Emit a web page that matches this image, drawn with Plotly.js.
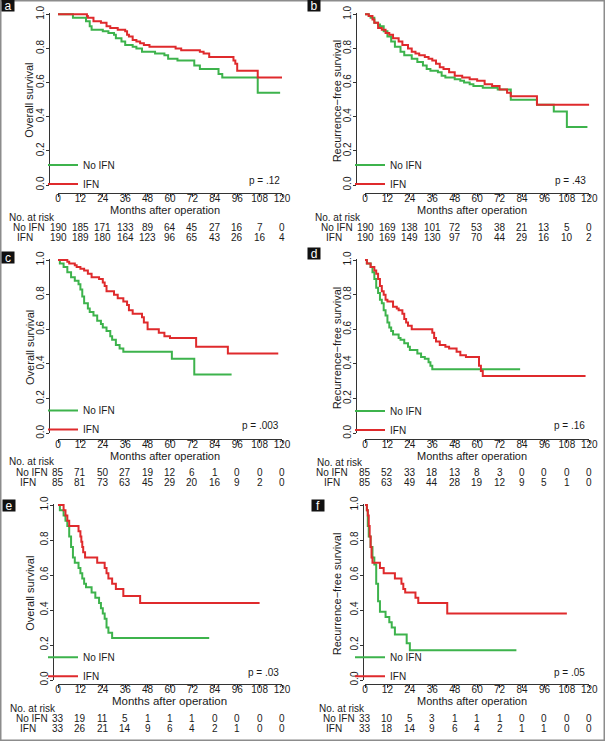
<!DOCTYPE html>
<html><head><meta charset="utf-8">
<script src="https://cdn.plot.ly/plotly-3.0.1.min.js"></script>
<style>html,body{margin:0;padding:0;background:#fff}#chart{width:605px;height:741px}</style>
</head><body><div id="chart"></div><script>
// ---------- data ----------
const months = [0,12,24,36,48,60,72,84,96,108,120];
const monthLabels = ['0','12','24','36','48','60','72','84','96','108','120'];
const survTicks = [0,0.2,0.4,0.6,0.8,1.0];
const survLabels = ['0.0','0.2','0.4','0.6','0.8','1.0'];
const groupNames = ['No IFN','IFN'];
const panelLetters = ['a','b','c','d','e','f'];
const yTitles = ['Overall survival','Recurrence\u2212free survival','Overall survival','Recurrence\u2212free survival','Overall survival','Recurrence\u2212free survival'];
const pValues = ['p = .12','p = .43','p = .003','p = .16','p = .03','p = .05'];

// panel a
const aNoT = [0,8,15,17,18,24,27,30,31,34,36,40,42,45,52,57,59,64,73,76,86,88,107,119];
const aNoS = [1,0.98,0.96,0.93,0.91,0.90,0.89,0.88,0.86,0.84,0.82,0.81,0.80,0.78,0.77,0.76,0.74,0.73,0.70,0.68,0.65,0.63,0.54,0.54];
const aIfT = [0,15.5,16,19,23,26,28,32,36,37,38,40,42,44,46,49,63,66,76,78,81,94,95,96,107,120];
const aIfS = [1,0.99,0.98,0.96,0.95,0.93,0.92,0.91,0.90,0.88,0.87,0.85,0.84,0.83,0.82,0.81,0.80,0.79,0.78,0.77,0.75,0.73,0.71,0.67,0.63,0.63];
const aRiskNo = [190,185,171,133,89,64,45,27,16,7,0];
const aRiskIf = [190,189,180,164,123,96,65,43,26,16,4];

// panel b
const bNoT = [0,2,3,5,7,8,10,12,14,16,19,21,25,28,31,33,35,39,41,43,48,51,53,56,58,63,71,78,92,101,108,119];
const bNoS = [1,0.99,0.98,0.95,0.94,0.93,0.90,0.87,0.84,0.81,0.78,0.76,0.74,0.72,0.70,0.68,0.67,0.66,0.64,0.63,0.62,0.61,0.60,0.59,0.58,0.57,0.56,0.50,0.47,0.43,0.34,0.34];
const bIfT = [0,2,4,5,7,9,11,13,15,18,20,23,25,27,29,32,34,36,38,40,42,45,48,52,56,60,64,68,72,76,78,92,120];
const bIfS = [1,0.99,0.97,0.95,0.92,0.91,0.89,0.88,0.86,0.84,0.82,0.80,0.78,0.77,0.76,0.75,0.74,0.73,0.71,0.69,0.68,0.66,0.64,0.63,0.62,0.61,0.59,0.58,0.56,0.54,0.52,0.47,0.47];
const bRiskNo = [190,169,138,101,72,53,38,21,13,5,0];
const bRiskIf = [190,169,149,130,97,70,44,29,16,10,2];

// panel c
const cNoT = [0,1,3,5,7,9,11,12,13,14,16,17,19,21,23,24,26,28,29,31,33,35,61,73,93];
const cNoS = [1,0.98,0.96,0.93,0.90,0.88,0.86,0.83,0.79,0.75,0.72,0.70,0.68,0.65,0.63,0.61,0.59,0.56,0.54,0.51,0.49,0.47,0.43,0.34,0.34];
const cIfT = [0,5,6,9,10,12,14,16,18,22,24,25,26,30,32,35,37,38,40,45,46,48,54,57,60,74,91,118];
const cIfS = [1,0.99,0.98,0.97,0.96,0.95,0.94,0.92,0.90,0.89,0.87,0.85,0.82,0.80,0.78,0.76,0.74,0.71,0.69,0.67,0.64,0.60,0.58,0.56,0.55,0.50,0.46,0.46];
const cRiskNo = [85,71,50,27,19,12,6,1,0,0,0];
const cRiskIf = [85,81,73,63,45,29,20,16,9,2,0];

// panel d
const dNoT = [0,1,3,4,5,6,7,8,9,10,11,12,13,14,15,18,19,21,23,24,28,30,32,34,35,36,83];
const dNoS = [1,0.98,0.96,0.93,0.89,0.84,0.81,0.77,0.75,0.71,0.68,0.64,0.61,0.59,0.57,0.55,0.54,0.52,0.50,0.48,0.46,0.44,0.43,0.41,0.39,0.37,0.37];
const dIfT = [0,1,3,5,6,7,8,9,10,11,12,15,17,18,20,21,22,23,25,36,37,38,40,43,45,49,51,54,61,62,63,118];
const dIfS = [1,0.98,0.96,0.94,0.92,0.89,0.85,0.82,0.80,0.77,0.76,0.73,0.72,0.71,0.69,0.66,0.64,0.62,0.60,0.58,0.55,0.53,0.51,0.50,0.49,0.47,0.45,0.44,0.39,0.36,0.33,0.33];
const dRiskNo = [85,52,33,18,13,8,3,0,0,0,0];
const dRiskIf = [85,63,49,44,28,19,12,9,5,1,0];

// panel e
const eNoT = [0,1,3,4,5,6,7,8,9,11,12,13,14,15,18,20,22,23,24,25,26,27,29,81];
const eNoS = [1,0.97,0.94,0.91,0.88,0.82,0.76,0.70,0.67,0.64,0.61,0.58,0.55,0.53,0.50,0.47,0.44,0.41,0.38,0.35,0.30,0.27,0.24,0.24];
const eIfT = [0,3,4,5,6,11,12,12.5,13,13.5,14.5,21,25,26,27,29,31,35,44,108];
const eIfS = [1,0.97,0.94,0.91,0.88,0.85,0.82,0.79,0.76,0.73,0.70,0.67,0.64,0.61,0.58,0.55,0.52,0.48,0.44,0.44];
const eRiskNo = [33,19,11,5,1,1,1,0,0,0,0];
const eRiskIf = [33,26,21,14,9,6,4,2,1,0,0];

// panel f
const fNoT = [0,1,1.5,2,3,4,5,6,7,8,11,13,14.3,16,22.3,24,81];
const fNoS = [1,0.97,0.88,0.82,0.76,0.70,0.66,0.55,0.45,0.39,0.36,0.33,0.30,0.26,0.21,0.17,0.17];
const fIfT = [0,1,1.5,2,2.5,3,3.5,4,8,10,16,19.5,20.5,21.5,27,28.5,44,108];
const fIfS = [1,0.97,0.94,0.88,0.82,0.76,0.70,0.67,0.64,0.61,0.58,0.55,0.52,0.50,0.47,0.44,0.38,0.38];
const fRiskNo = [33,10,5,3,1,1,1,0,0,0,0];
const fRiskIf = [33,18,14,9,6,4,2,1,1,0,0];

const curves = [
  [[aNoT,aNoS],[aIfT,aIfS]],
  [[bNoT,bNoS],[bIfT,bIfS]],
  [[cNoT,cNoS],[cIfT,cIfS]],
  [[dNoT,dNoS],[dIfT,dIfS]],
  [[eNoT,eNoS],[eIfT,eIfS]],
  [[fNoT,fNoS],[fIfT,fIfS]]
];
const risks = [[aRiskNo,aRiskIf],[bRiskNo,bRiskIf],[cRiskNo,cRiskIf],[dRiskNo,dRiskIf],[eRiskNo,eRiskIf],[fRiskNo,fRiskIf]];

// ---------- layout geometry (pixels) ----------
const W = 605, H = 741;
const geo = [
  {x0:58,x1:282,yT:14.3,yB:185,yLine:49,xLine:192.7,let:[7.5,6],ytX:29,xt:[165.3,210.5],hdr:[6.7,217.5],rows:[227.7,237],lab:[29.2,25.3],p:[281.5,181],leg:[168,180],legX:83},
  {x0:365,x1:589.3,yT:14.3,yB:185,yLine:356,xLine:192.7,let:[314,6],ytX:336.7,xt:[472.5,210.5],hdr:[312.7,217.5],rows:[227.7,237],lab:[336.7,333.7],p:[588,181],leg:[167,181],legX:390},
  {x0:58,x1:282,yT:260,yB:433.3,yLine:49,xLine:439.3,let:[8,257],ytX:29.3,xt:[165.3,455.5],hdr:[7.3,461],rows:[472.3,482.3],lab:[31.7,27.8],p:[281,425.7],leg:[413,426],legX:83},
  {x0:365,x1:589.3,yT:260,yB:433.3,yLine:356,xLine:439.3,let:[314.3,253.3],ytX:336.7,xt:[472.5,455.5],hdr:[315,462],rows:[472.3,482.3],lab:[332.2,332.5],p:[587,425.7],leg:[414,426],legX:390},
  {x0:58,x1:282,yT:505,yB:680,yLine:53,xLine:684,let:[9.2,505.3],ytX:29.3,xt:[169.6,700.5],hdr:[8.3,708.4],rows:[718.9,728.3],lab:[31.7,27.5],p:[281,672.3],leg:[660,672.3],legX:83},
  {x0:365,x1:589.3,yT:505,yB:680,yLine:363,xLine:684,let:[317.5,505.3],ytX:336.7,xt:[472.5,700.5],hdr:[316.7,708.4],rows:[718.9,728.3],lab:[339.2,334.2],p:[587,672.3],leg:[660,672.3],legX:390}
];
const colors = ['#3db34c','#df2a2c'];
const txt = '#1a1a1a';
const px = v => v / W;
const py = v => 1 - v / H;

const traces = [];
const layout = {
  width: W, height: H,
  margin: {l:0, r:0, t:0, b:0},
  paper_bgcolor: '#ffffff', plot_bgcolor: 'rgba(0,0,0,0)',
  font: {family: '"Liberation Sans", Arial, sans-serif', size: 10, color: txt},
  annotations: [],
  shapes: [{type:'rect', xref:'paper', yref:'paper', x0:px(0.75), x1:px(W-0.75), y0:py(H-0.75), y1:py(0.75), line:{color:'#8c8c8c', width:1.5}}]
};

geo.forEach((g, i) => {
  const n = i === 0 ? '' : String(i + 1);
  const xa = 'x' + n, ya = 'y' + n;
  const legId = 'legend' + n;
  const ext = 1.5; // px of headroom above 1.0 so top lines are not clipped
  const yMax = 1 + ext / (g.yB - g.yT);
  layout['xaxis' + n] = {
    domain: [px(g.x0), px(g.x1)], range: [0, 120], anchor: 'free', position: py(g.xLine),
    tickvals: months, ticktext: monthLabels, ticks: 'outside', ticklen: 3, tickwidth: 1, tickcolor: '#333',
    showline: true, linecolor: '#333', linewidth: 1, showgrid: false, zeroline: false,
    tickfont: {size: 10, color: txt}, ticklabelstandoff: -7, fixedrange: true
  };
  layout['yaxis' + n] = {
    domain: [py(g.yB), py(g.yT - ext)], range: [0, yMax], anchor: 'free', position: px(g.yLine),
    tickvals: survTicks, ticktext: survLabels, ticks: 'outside', ticklen: 3, tickwidth: 1, tickcolor: '#333',
    tickangle: -90, showline: true, linecolor: '#333', linewidth: 1, showgrid: false, zeroline: false,
    tickfont: {size: 10, color: txt}, ticklabelstandoff: -2, fixedrange: true
  };
  const legTop = (g.leg[0] + g.leg[1]) / 2 - 23.5;
  layout[legId] = {
    x: px(g.legX - 40), y: py(legTop), xanchor: 'left', yanchor: 'top',
    bgcolor: 'rgba(0,0,0,0)', font: {size: 10, color: txt}, traceorder: 'normal', itemwidth: 30
  };
  curves[i].forEach((c, k) => {
    traces.push({
      x: c[0], y: c[1], type: 'scatter', mode: 'lines', name: groupNames[k],
      line: {shape: 'hv', width: 2, color: colors[k]},
      xaxis: xa, yaxis: ya, legend: legId, hoverinfo: 'skip'
    });
  });
  const A = layout.annotations;
  // panel letter
  A.push({xref:'paper', yref:'paper', x:px(g.let[0]), y:py(g.let[1]), xanchor:'center', yanchor:'middle',
    text: panelLetters[i], showarrow:false, bgcolor:'#111', width:12, height:11, borderpad:0,
    font:{size:12, color:'#fff'}});
  // y title
  A.push({xref:'paper', yref:'paper', x:px(g.ytX), y:py((g.yT + g.yB) / 2 + 1), xanchor:'center', yanchor:'middle',
    text: yTitles[i], textangle:-90, showarrow:false, font:{size:11, color:txt}});
  // x title
  A.push({xref:'paper', yref:'paper', x:px(g.xt[0]), y:py(g.xt[1]), xanchor:'center', yanchor:'middle',
    text: 'Months after operation', showarrow:false, font:{size: i === 4 ? 11.5 : 11, color:txt}});
  // p value
  A.push({xref:'paper', yref:'paper', x:px(g.p[0]), y:py(g.p[1]), xanchor:'right', yanchor:'middle',
    text: pValues[i], showarrow:false, font:{size:10, color:txt}});
  // risk table
  A.push({xref:'paper', yref:'paper', x:px(g.hdr[0]), y:py(g.hdr[1]), xanchor:'left', yanchor:'middle',
    text: 'No. at risk', showarrow:false, font:{size:10, color:txt}});
  groupNames.forEach((gn, k) => {
    A.push({xref:'paper', yref:'paper', x:px(g.lab[k]), y:py(g.rows[k]), xanchor:'center', yanchor:'middle',
      text: gn, showarrow:false, font:{size:10, color:txt}});
    risks[i][k].forEach((v, j) => {
      A.push({xref: xa, yref:'paper', x: months[j], y: py(g.rows[k]), xanchor:'center', yanchor:'middle',
        text: String(v), showarrow:false, font:{size:10, color:txt}});
    });
  });
});

Plotly.newPlot('chart', traces, layout, {displayModeBar: false, staticPlot: true});
</script></body></html>
